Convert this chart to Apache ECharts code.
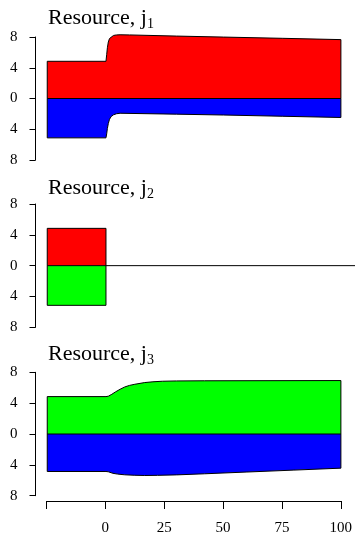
<!DOCTYPE html>
<html>
<head>
<meta charset="utf-8">
<script src="https://cdn.jsdelivr.net/npm/echarts@6/dist/echarts.min.js"></script>
<style>
html,body{margin:0;padding:0;background:#fff;}
#chart{width:355px;height:536px;}
</style>
</head>
<body>
<div id="chart"></div>
<script>
// ---- data ----
const titles = ['Resource, j', 'Resource, j', 'Resource, j'];
const titleSubs = ['1', '2', '3'];
const yTicks = [-8, -4, 0, 4, 8];
const xTicks = [-25, 0, 25, 50, 75, 100];

// Panel 1 (j1): upper (red) and lower (blue) boundaries, [time, value]
const p1Upper = [[-25,0],[-25,4.84],[0,4.84],[0.3,5.7],[0.6,6.6],[1.0,7.35],[1.5,7.8],[2.2,8.05],[3.2,8.2],[4.5,8.27],[6,8.29],[10,8.27],[30,8.12],[50,7.99],[75,7.83],[100,7.66],[100,0]];
const p1Lower = [[-25,0],[-25,-5.12],[0,-5.12],[0.3,-4.6],[0.6,-3.9],[1.0,-3.25],[1.5,-2.7],[2.2,-2.35],[3.2,-2.12],[4.5,-1.98],[6,-1.92],[30,-2.04],[50,-2.15],[75,-2.31],[100,-2.47],[100,0]];
// Panel 2 (j2)
const p2Upper = [[-25,0],[-25,4.84],[0,4.84],[0,0]];
const p2Lower = [[-25,0],[-25,-5.15],[0,-5.15],[0,0]];
// Panel 3 (j3)
const p3Upper = [[-25,0],[-25,4.85],[0,4.85],[1,4.9],[2.5,5.15],[4,5.45],[6,5.8],[8,6.1],[10,6.3],[12.3,6.45],[16.5,6.67],[20,6.77],[24,6.84],[30,6.88],[42,6.9],[100,6.93],[100,0]];
const p3Lower = [[-25,0],[-25,-4.86],[0,-4.86],[1,-4.9],[3,-5.1],[5,-5.2],[8,-5.29],[12,-5.35],[16.5,-5.38],[22,-5.36],[30,-5.3],[42,-5.16],[60,-4.93],[80,-4.68],[100,-4.43],[100,0]];
// zero lines
const zero1 = [[-25,0],[100,0]];
const zero2 = [[-25,0],[106,0]];
const zero3 = [[-25,0],[100,0]];

const RED = '#ff0000', BLUE = '#0000ff', GREEN = '#00ff00';
const FONT = 'Liberation Serif';

const panels = [
  {upper: p1Upper, lower: p1Lower, zero: zero1, cu: RED, cl: BLUE, top: 37, h: 123, titleTop: 5},
  {upper: p2Upper, lower: p2Lower, zero: zero2, cu: RED, cl: GREEN, top: 204, h: 123.3, titleTop: 175},
  {upper: p3Upper, lower: p3Lower, zero: zero3, cu: GREEN, cl: BLUE, top: 372.3, h: 123.4, titleTop: 341}
];

const grid = [], xAxis = [], yAxis = [], series = [], title = [];
panels.forEach((p, i) => {
  grid.push({left: 35.5, right: 0, top: p.top, height: p.h});
  xAxis.push({type: 'value', gridIndex: i, min: -30, max: 106, show: false});
  yAxis.push({
    type: 'value', gridIndex: i, min: yTicks[0], max: yTicks[yTicks.length-1], interval: 4, position: 'left',
    axisLine: {show: true, onZero: false, lineStyle: {color: '#000', width: 1}},
    axisTick: {show: true, length: 6, lineStyle: {color: '#000'}},
    splitLine: {show: false},
    axisLabel: {margin: 18, color: '#000', fontFamily: FONT, fontSize: 15, formatter: v => String(Math.abs(v))}
  });
  const common = {type: 'line', xAxisIndex: i, yAxisIndex: i, symbol: 'none', clip: false, silent: true, animation: false,
    lineStyle: {color: '#000', width: 1}};
  series.push(Object.assign({}, common, {data: p.upper, areaStyle: {color: p.cu, opacity: 1}, z: 2}));
  series.push(Object.assign({}, common, {data: p.lower, areaStyle: {color: p.cl, opacity: 1}, z: 2}));
  series.push(Object.assign({}, common, {data: p.zero, z: 3}));
  title.push({
    text: '{a|' + titles[i] + '}{s|' + titleSubs[i] + '}',
    left: 48, top: p.titleTop, padding: 0,
    textStyle: {fontWeight: 'normal', rich: {
      a: {fontFamily: FONT, fontSize: 22, fontWeight: 'normal', color: '#000', lineHeight: 26},
      s: {fontFamily: FONT, fontSize: 14, fontWeight: 'normal', color: '#000', lineHeight: 26, verticalAlign: 'bottom'}
    }}
  });
});

// bottom time axis
grid.push({left: 46.5, right: 14, top: 500, height: 2});
xAxis.push({
  type: 'value', gridIndex: 3, min: xTicks[0], max: xTicks[xTicks.length-1], interval: 25, position: 'bottom',
  axisLine: {show: true, onZero: false, lineStyle: {color: '#000', width: 1}},
  axisTick: {show: true, length: 8, lineStyle: {color: '#000'}},
  splitLine: {show: false},
  axisLabel: {margin: 20, color: '#000', fontFamily: FONT, fontSize: 15, formatter: v => v === xTicks[0] ? '' : String(v)}
});
yAxis.push({type: 'value', gridIndex: 3, show: false, min: 0, max: 1});

const chart = echarts.init(document.getElementById('chart'), null, {renderer: 'canvas'});
chart.setOption({animation: false, title, grid, xAxis, yAxis, series});
</script>
</body>
</html>
